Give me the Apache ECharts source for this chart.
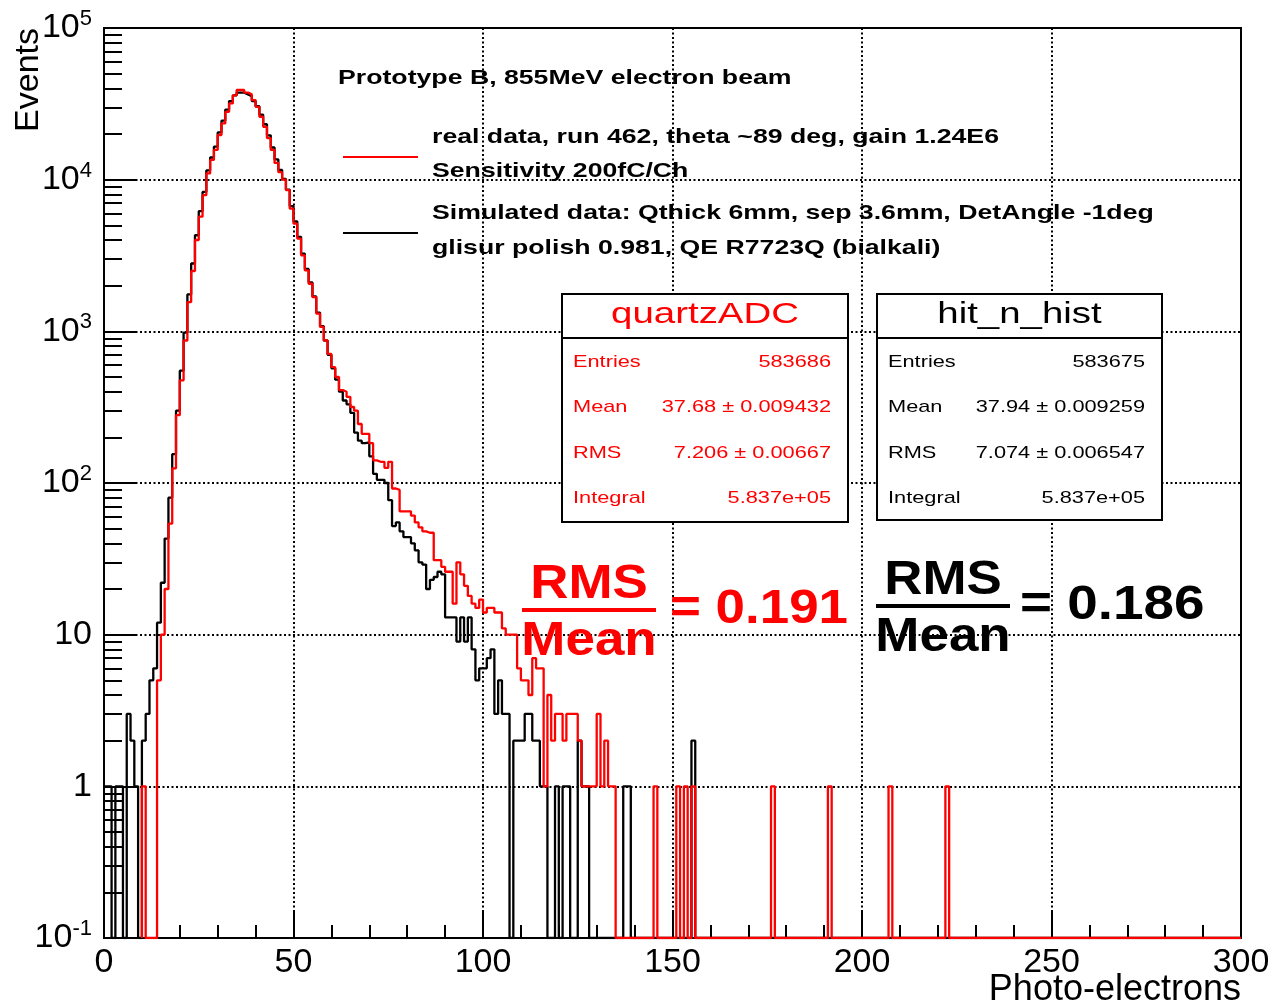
<!DOCTYPE html>
<html>
<head>
<meta charset="utf-8">
<script src="https://cdn.jsdelivr.net/npm/echarts@6/dist/echarts.min.js"></script>
<style>
  html, body { margin: 0; padding: 0; background: #fff; }
  #chart { width: 1268px; height: 1005px; }
</style>
</head>
<body>
<div id="chart"></div>
<script>
// 300 bins of 1 photo-electron each, 0..300
const nBins = 300;

// quartzADC (real data, run 462), bins 0..159
const realCounts = [
  0, 0, 0, 0, 0, 0, 0, 0, 0, 0,
  1, 0, 0, 0, 5, 10, 20, 54, 125, 280,
  475, 870, 1560, 2500, 4000, 5700, 7900, 11000, 13500, 15700,
  19700, 23500, 28000, 31800, 36000, 39000, 39000, 37500, 36500, 33500,
  30200, 26000, 22300, 18800, 15700, 12900, 11200, 10000, 8540, 6450,
  5130, 4090, 3170, 2520, 2060, 1680, 1310, 1070, 870, 710,
  580, 500, 410, 400, 370, 317, 300, 245, 211, 211,
  183, 141, 138, 138, 126, 138, 92, 90, 65, 65,
  65, 61, 55, 51, 48, 47, 47, 31, 31, 28,
  26, 26, 16, 30, 25, 21, 18, 16, 15, 17,
  14, 15, 15, 14, 14, 11, 10, 10, 10, 6,
  5, 5, 4, 7, 6, 6, 1, 4, 2, 3,
  3, 2, 3, 3, 3, 2, 1, 1, 1, 1,
  3, 1, 2, 1, 1, 0, 0, 0, 0, 0,
  0, 0, 0, 0, 0, 1, 0, 0, 0, 0,
  0, 1, 0, 1, 0, 1, 0, 0, 0, 0
];
// single-count bins of the real data further out
const realSpikeBins = [176, 191, 207, 222];

// hit_n_hist (simulation), bins 0..159
const simCounts = [
  1, 1, 0, 1, 1, 0, 3, 2, 1, 0,
  2, 3, 5, 6, 12, 22, 43, 80, 155, 300,
  550, 980, 1750, 2800, 4300, 6200, 8300, 11500, 14000, 16500,
  20500, 24500, 29000, 33000, 36000, 37500, 37500, 36500, 35500, 33000,
  30500, 26800, 23200, 19600, 16300, 13600, 11600, 10100, 8600, 6700,
  5300, 4200, 3250, 2580, 2100, 1700, 1330, 1080, 870, 700,
  570, 480, 400, 350, 330, 290, 215, 190, 183, 185,
  150, 115, 105, 105, 100, 77, 52, 55, 48, 44,
  44, 40, 36, 30, 29, 20, 23, 24, 26, 25,
  13, 13, 13, 9, 13, 9, 13, 8, 5, 6,
  6, 7, 8, 3, 5, 3, 3, 0, 2, 2,
  2, 3, 3, 2, 2, 1, 1, 0, 0, 1,
  0, 1, 1, 0, 0, 2, 1, 1, 0, 0,
  0, 0, 0, 0, 0, 0, 0, 1, 1, 0,
  0, 0, 0, 0, 0, 0, 0, 0, 0, 0,
  0, 0, 0, 0, 0, 2, 0, 0, 0, 0
];

const yMajorTicks = [0.1, 1, 10, 100, 1000, 10000, 100000];
const yMinorTicks = [];
for (let d = 0.1; d < 1e5; d *= 10) {
  for (let m = 2; m <= 9; m++) yMinorTicks.push(+(d * m).toPrecision(3));
}

const FONT = 'Liberation Sans, Arial, sans-serif';
const yFloor = 0.1; // empty bins are drawn down to the frame bottom

function fullHist(counts, spikes) {
  const h = [];
  for (let i = 0; i < nBins; i++) h.push(i < counts.length ? counts[i] : 0);
  (spikes || []).forEach(b => { h[b] = 1; });
  return h;
}

// histogram outline points for a step:'end' line, starting at first filled bin
function stepPoints(h) {
  let first = h.findIndex(v => v > 0);
  const pts = [];
  if (first > 0) pts.push([first, yFloor]);
  for (let i = first; i < h.length; i++) pts.push([i, h[i] > 0 ? h[i] : yFloor]);
  pts.push([h.length, h[h.length - 1] > 0 ? h[h.length - 1] : yFloor]);
  return pts;
}

const realHist = fullHist(realCounts, realSpikeBins);
const simHist = fullHist(simCounts);

const dotted = { color: '#000', width: 2, type: [2, 2.5] };

function statBox(x, y, w, h, color, title, rows) {
  const els = [
    { type: 'rect', shape: { x: x, y: y, width: w, height: h },
      style: { fill: '#fff', stroke: '#000', lineWidth: 2 }, z: 10 },
    { type: 'line', shape: { x1: x, y1: y + 44, x2: x + w, y2: y + 44 },
      style: { stroke: '#000', lineWidth: 2 }, z: 11 },
    { type: 'text', x: x + w / 2, y: y + 21, scaleX: 1.28, z: 11,
      style: { text: title, fill: color, font: '30px ' + FONT, align: 'center', verticalAlign: 'middle' } }
  ];
  rows.forEach((r, i) => {
    const ry = y + 68 + i * 45.5;
    els.push({ type: 'text', x: x + 11, y: ry, scaleX: 1.28, z: 11,
      style: { text: r[0], fill: color, font: '17px ' + FONT, align: 'left', verticalAlign: 'middle' } });
    els.push({ type: 'text', x: x + w - 17, y: ry, scaleX: 1.28, z: 11,
      style: { text: r[1], fill: color, font: '17px ' + FONT, align: 'right', verticalAlign: 'middle' } });
  });
  return els;
}

function ratio(cx, lineY, color, value, valueX, sx) {
  const big = 'bold 49px ' + FONT;
  return [
    { type: 'text', x: cx, y: lineY - 26, scaleX: 1.08, z: 12,
      style: { text: 'RMS', fill: color, font: big, align: 'center', verticalAlign: 'middle' } },
    { type: 'line', shape: { x1: cx - 67, y1: lineY, x2: cx + 67, y2: lineY },
      style: { stroke: color, lineWidth: 4 }, z: 12 },
    { type: 'text', x: cx, y: lineY + 31, scaleX: 1.08, z: 12,
      style: { text: 'Mean', fill: color, font: big, align: 'center', verticalAlign: 'middle' } },
    { type: 'text', x: valueX, y: lineY - 1, scaleX: sx, z: 12,
      style: { text: '= ' + value, fill: color, font: big, align: 'left', verticalAlign: 'middle' } }
  ];
}

const legendFont = 'bold 21px ' + FONT;
function legendText(x, y, text) {
  return { type: 'text', x: x, y: y, scaleX: 1.27, z: 9,
    style: { text: text, fill: '#000', font: legendFont, align: 'left', verticalAlign: 'middle' } };
}

const chart = echarts.init(document.getElementById('chart'), null, { renderer: 'canvas' });

chart.setOption({
  animation: false,
  backgroundColor: '#fff',
  textStyle: { fontFamily: FONT },
  grid: {
    left: 104, right: 27, top: 28, bottom: 67,
    show: true, borderColor: '#000', borderWidth: 2, backgroundColor: 'transparent',
    outerBoundsMode: 'none'
  },
  xAxis: {
    type: 'value', min: 0, max: 300, interval: 50,
    axisLine: { show: false },
    axisTick: { show: true, inside: true, length: 28, lineStyle: { color: '#000', width: 2 } },
    minorTick: { show: true, splitNumber: 5, length: 13, lineStyle: { color: '#000', width: 2 } },
    axisLabel: { color: '#000', fontFamily: FONT, fontSize: 34, margin: 8, showMinLabel: true, showMaxLabel: true },
    splitLine: { show: true, lineStyle: dotted }
  },
  yAxis: [
    {
      type: 'log', logBase: 10, min: 0.1, max: 1e5, position: 'left',
      axisLine: { show: false },
      axisTick: { show: true, inside: true, length: 33, customValues: yMajorTicks, lineStyle: { color: '#000', width: 2 } },
      axisLabel: {
        color: '#000', fontFamily: FONT, fontSize: 34, margin: 12, lineHeight: 40,
        showMinLabel: true, showMaxLabel: true,
        formatter: function (v) {
          if (v === 1) return '1';
          if (v === 10) return '10';
          const e = Math.round(Math.log10(v));
          return '10{sup|' + e + '}';
        },
        rich: { sup: { fontSize: 22, fontFamily: FONT, color: '#000', verticalAlign: 'top', lineHeight: 22 } }
      },
      splitLine: { show: true, lineStyle: dotted }
    },
    {
      type: 'log', logBase: 10, min: 0.1, max: 1e5, position: 'left', offset: 0,
      axisLine: { show: false },
      axisTick: { show: true, inside: true, length: 18, customValues: yMinorTicks, lineStyle: { color: '#000', width: 2 } },
      axisLabel: { show: false },
      splitLine: { show: false }
    }
  ],
  series: [
    {
      name: 'hit_n_hist', type: 'line', step: 'end', symbol: 'none',
      data: stepPoints(simHist), yAxisIndex: 0,
      lineStyle: { color: '#000', width: 2.3 }, z: 3
    },
    {
      name: 'quartzADC', type: 'line', step: 'end', symbol: 'none',
      data: stepPoints(realHist), yAxisIndex: 0,
      lineStyle: { color: '#ff0000', width: 2.3 }, z: 4
    }
  ],
  graphic: {
    elements: [
      { type: 'text', x: 29, y: 28, rotation: Math.PI / 2,
        style: { text: 'Events', fill: '#000', font: '34px ' + FONT, align: 'right', verticalAlign: 'middle' } },
      { type: 'text', x: 1241, y: 972,
        style: { text: 'Photo-electrons', fill: '#000', font: '36px ' + FONT, align: 'right', verticalAlign: 'top' } },

      legendText(338, 78, 'Prototype B, 855MeV electron beam'),
      { type: 'line', shape: { x1: 343, y1: 157, x2: 418, y2: 157 }, style: { stroke: '#ff0000', lineWidth: 2 }, z: 9 },
      legendText(432, 137, 'real data, run 462, theta ~89 deg, gain 1.24E6'),
      legendText(432, 171, 'Sensitivity 200fC/Ch'),
      { type: 'line', shape: { x1: 343, y1: 233, x2: 418, y2: 233 }, style: { stroke: '#000', lineWidth: 2 }, z: 9 },
      legendText(432, 213, 'Simulated data: Qthick 6mm, sep 3.6mm, DetAngle -1deg'),
      legendText(432, 248, 'glisur polish 0.981, QE R7723Q (bialkali)')
    ]
    .concat(statBox(562, 294, 286, 228, '#ff0000', 'quartzADC', [
      ['Entries', '583686'],
      ['Mean', '37.68 \u00b1 0.009432'],
      ['RMS', '7.206 \u00b1 0.00667'],
      ['Integral', '5.837e+05']
    ]))
    .concat(statBox(877, 294, 285, 226, '#000', 'hit_n_hist', [
      ['Entries', '583675'],
      ['Mean', '37.94 \u00b1 0.009259'],
      ['RMS', '7.074 \u00b1 0.006547'],
      ['Integral', '5.837e+05']
    ]))
    .concat(ratio(589, 610, '#ff0000', '0.191', 670, 1.08))
    .concat(ratio(943, 606, '#000', '0.186', 1020, 1.12))
  }
});
</script>
</body>
</html>
